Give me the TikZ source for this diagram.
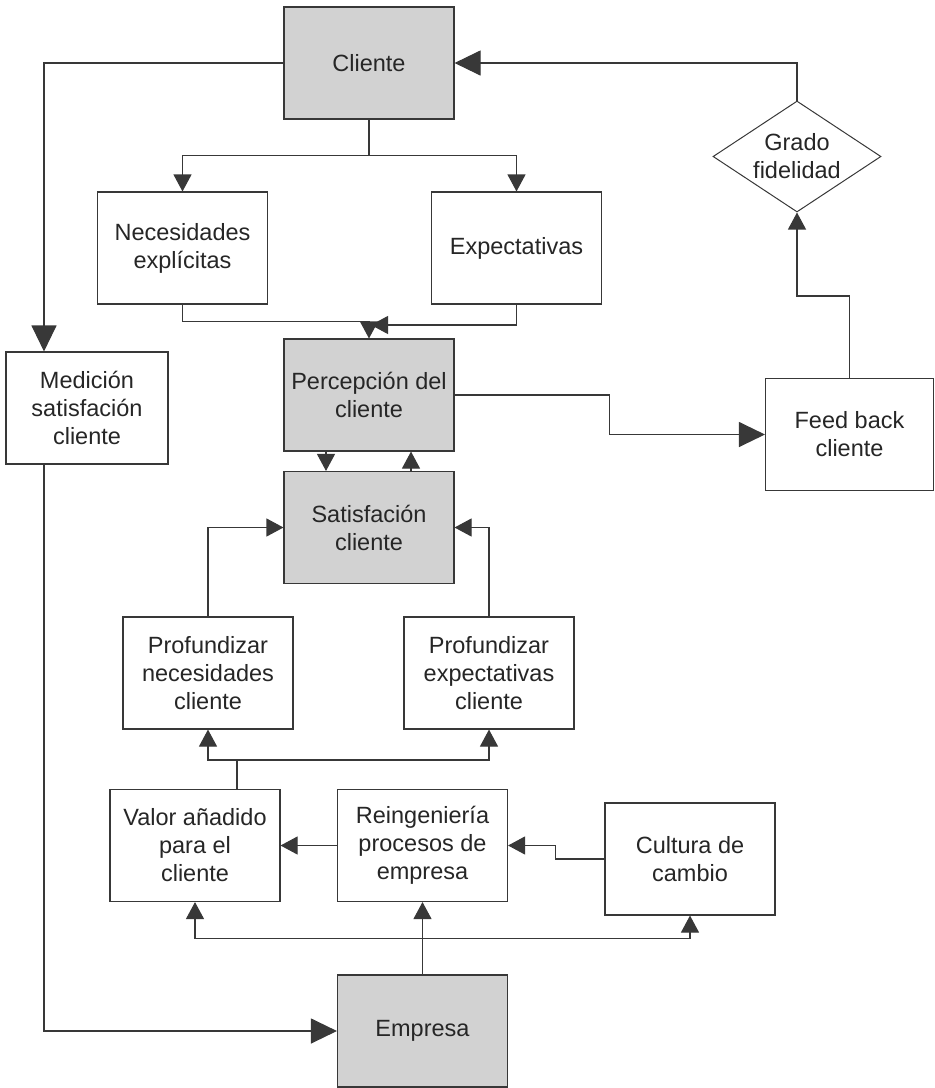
\documentclass[tikz,border=0pt]{standalone}
\usepackage{fontspec}
\setmainfont{Liberation Sans}
\usetikzlibrary{positioning,arrows.meta,shapes.geometric}
\definecolor{boxgray}{HTML}{D2D2D2}
\definecolor{linegray}{HTML}{383838}
\definecolor{textgray}{HTML}{262626}

\begin{document}
\begin{tikzpicture}[x=1pt, y=-1pt, color=linegray, line width=1.1pt,
    every node/.style={font=\fontsize{23.5}{28}\selectfont, text=textgray, align=center},
    box/.style={draw=linegray, fill=white, minimum width=170pt, minimum height=112pt, inner sep=2pt},
    shaded/.style={box, fill=boxgray},
    >={Triangle[length=17pt,width=18pt]},
    bigarrow/.style={-{Triangle[length=26pt,width=25pt]}}]
    \useasboundingbox (0,0) rectangle (935,1088);

    \node[shaded] (cliente)      at (369,63)    {Cliente};
    \node[box]    (necesidades)  at (182.5,248) {Necesidades\\explícitas};
    \node[box]    (expectativas) at (516.5,248) {Expectativas};
    \node[box, minimum width=162pt] (medicion) at (87,408) {Medición\\satisfación\\cliente};
    \node[shaded] (percepcion)   at (369,395)   {Percepción del\\cliente};
    \node[shaded] (satisfacion)  at (369,527.5) {Satisfación\\cliente};
    \node[box, minimum width=168pt] (feedback) at (849.5,434.5) {Feed back\\cliente};
    \node[draw=linegray, line width=1pt, diamond, aspect=1.51, inner sep=-3pt,
          minimum width=168pt, minimum height=111pt] (grado) at (797,156.5) {Grado\\fidelidad};
    \node[box]    (profnec)      at (208,673)   {Profundizar\\necesidades\\cliente};
    \node[box]    (profexp)      at (489,673)   {Profundizar\\expectativas\\cliente};
    \node[box]    (valor)        at (195,845.5) {Valor añadido\\para el\\cliente};
    \node[box]    (reing)        at (422.5,845.5) {Reingeniería\\procesos de\\empresa};
    \node[box]    (cultura)      at (690,859)   {Cultura de\\cambio};
    \node[shaded] (empresa)      at (422.5,1031) {Empresa};
    \coordinate (merge) at (371,325);

    % cliente
    \draw[->] (cliente.south) -- ++(0,36) -| (necesidades.north);
    \draw[->] (cliente.south) ++(0,36) -| (expectativas.north);
    \draw[bigarrow] (cliente.west) -| ([xshift=-43pt]medicion.north);
    \draw[bigarrow] ([xshift=-43pt]medicion.south) |- (empresa.west);

    % percepcion
    \draw[->] (necesidades.south) -- ++(0,17) -| (percepcion.north);
    \draw[->] (expectativas.south) |- (merge);
    \draw[->] ([xshift=-43pt]percepcion.south) -- ([xshift=-43pt]satisfacion.north);
    \draw[->] ([xshift=42pt]satisfacion.north) -- ([xshift=42pt]percepcion.south);
    \draw[bigarrow] (percepcion.east) -- ++(155,0) |- (feedback.west);
    \draw[->] (feedback.north) -- ++(0,-82) -| (grado.south);
    \draw[bigarrow] (grado.north) |- (cliente.east);

    % satisfacion
    \draw[->] (profnec.north) |- (satisfacion.west);
    \draw[->] (profexp.north) |- (satisfacion.east);
    \draw[->] ([xshift=42pt]valor.north) -- ++(0,-29) -| (profnec.south);
    \draw[->] ([xshift=42pt]valor.north) ++(0,-29) -| (profexp.south);

    % empresa
    \draw[->] (reing.west) -- (valor.east);
    \draw[->] (cultura.west) -- ++(-49,0) |- (reing.east);
    \draw[->] (empresa.north) -- (reing.south);
    \draw[->] ([yshift=36pt]empresa.north) -| (valor.south);
    \draw[->] ([yshift=36pt]empresa.north) -| (cultura.south);
\end{tikzpicture}
\end{document}
